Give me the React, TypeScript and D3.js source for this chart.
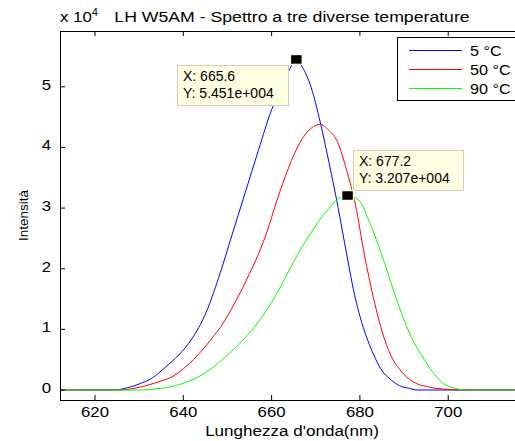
import React from 'react';
import * as d3 from 'd3';

// spettri (nm, intensità in unità di 1e4)
const blueNm = [612, 624, 627, 630, 633, 636, 639, 642, 645, 648, 651, 654, 657, 660, 662, 664, 665.6, 667, 669, 671, 673, 675, 677, 679, 681, 683, 685, 687, 689, 691, 693, 720];
const blueVal = [0, 0, 0.03, 0.1, 0.2, 0.38, 0.58, 0.85, 1.25, 1.85, 2.55, 3.25, 3.95, 4.62, 4.95, 5.28, 5.451, 5.32, 4.98, 4.42, 3.75, 3.03, 2.24, 1.5, 0.98, 0.6, 0.32, 0.17, 0.07, 0.03, 0, 0];

const redNm = [612, 626, 629, 632, 635, 637, 640, 642.3, 645, 647, 649, 651, 653, 655, 657, 659, 661, 663, 665, 667, 669, 671, 673, 675, 677, 679, 681, 683, 685, 687, 689, 691, 693, 695, 697, 700, 703, 720];
const redVal = [0, 0, 0.03, 0.08, 0.15, 0.2, 0.35, 0.5, 0.72, 0.9, 1.1, 1.35, 1.62, 1.92, 2.24, 2.62, 3.08, 3.5, 3.87, 4.15, 4.32, 4.38, 4.28, 4.08, 3.62, 3.05, 2.24, 1.54, 0.97, 0.57, 0.34, 0.19, 0.1, 0.06, 0.03, 0.01, 0, 0];

const greenNm = [612, 631, 634, 637, 640, 643, 645.3, 648, 651.3, 654, 657, 660, 662, 664, 666.4, 669, 671, 673, 675, 677.2, 679.6, 682.6, 685.6, 688.6, 691.6, 694.6, 697, 699, 701, 704, 720];
const greenVal = [0, 0, 0.02, 0.05, 0.11, 0.2, 0.3, 0.45, 0.66, 0.86, 1.12, 1.45, 1.7, 1.98, 2.3, 2.6, 2.82, 3.0, 3.15, 3.207, 3.14, 2.69, 2.09, 1.43, 0.88, 0.5, 0.25, 0.1, 0.04, 0, 0];

const seriesNames = ['5 °C', '50 °C', '90 °C'];
const seriesColors = ['#0000ff', '#ff0000', '#00ff00'];

const xTicks = [620, 640, 660, 680, 700, 720];
const xTickLabels = [620, 640, 660, 680, 700];
const yTicks = [0, 1, 2, 3, 4, 5];

// data tip
const tips = [
  { x: 665.6, y: 5.451, label: ['X: 665.6', 'Y: 5.451e+004'] },
  { x: 677.2, y: 3.207, label: ['X: 677.2', 'Y: 3.207e+004'] },
];

const font = 'Liberation Sans, Arial, sans-serif';

// testo leggermente allargato in orizzontale, come nell'immagine esportata
function Wide({ x, y, sx = 1.12, anchor = 'start', size = 15, children }: any) {
  return (
    <text transform={`translate(${x},${y}) scale(${sx},1)`} fontSize={size} textAnchor={anchor}>
      {children}
    </text>
  );
}

export default function App() {
  const width = 515;
  const height = 441;
  const left = 60;
  const top = 31;
  const bottom = 400;

  const x = d3.scaleLinear().domain([612.07, 720]).range([left, left + (720 - 612.07) * 4.415]);
  const y = d3.scaleLinear().domain([-0.165, 5.92]).range([bottom, top]);

  const line = d3
    .line<[number, number]>()
    .x(d => x(d[0]))
    .y(d => y(d[1]))
    .curve(d3.curveMonotoneX);

  const series = [
    d3.zip(blueNm, blueVal) as [number, number][],
    d3.zip(redNm, redVal) as [number, number][],
    d3.zip(greenNm, greenVal) as [number, number][],
  ];

  const tipBoxes = [
    { bx: 177, by: 65, bw: 111, bh: 40 },
    { bx: 353, by: 150, bw: 110, bh: 40 },
  ];

  return (
    <svg width={width} height={height} style={{ position: 'absolute', left: 0, top: 0, background: '#fff' }} fontFamily={font}>
      <rect width={width} height={height} fill="#fff" />
      <defs>
        <clipPath id="plot">
          <rect x={left} y={top} width={width - left} height={bottom - top} />
        </clipPath>
      </defs>

      <g clipPath="url(#plot)">
        {series.map((s, i) => (
          <path key={i} d={line(s) || ''} fill="none" stroke={seriesColors[i]} strokeWidth={1} />
        ))}
      </g>

      {/* cornice e tacche */}
      <line x1={left} x2={width} y1={top + 0.5} y2={top + 0.5} stroke="#000" />
      <line x1={left} x2={width} y1={bottom + 0.5} y2={bottom + 0.5} stroke="#000" />
      <line x1={left + 0.5} x2={left + 0.5} y1={top} y2={bottom + 1} stroke="#000" />
      {xTicks.map(t => (
        <g key={t}>
          <line x1={x(t)} x2={x(t)} y1={bottom} y2={bottom - 5} stroke="#000" />
          <line x1={x(t)} x2={x(t)} y1={top} y2={top + 5} stroke="#000" />
        </g>
      ))}
      {xTickLabels.map(t => (
        <Wide key={t} x={x(t)} y={bottom + 17} anchor="middle">{t}</Wide>
      ))}
      {yTicks.map(t => (
        <g key={t}>
          <line x1={left} x2={left + 5} y1={y(t)} y2={y(t)} stroke="#000" />
          <Wide x={left - 9} y={y(t) + 3} anchor="end">{t}</Wide>
        </g>
      ))}

      <Wide x={left} y={22}>x 10<tspan dy={-6} fontSize={10}>4</tspan></Wide>
      <Wide x={292} y={22} sx={1.14} size={15.5} anchor="middle">LH W5AM - Spettro a tre diverse temperature</Wide>
      <Wide x={292} y={436} sx={1.1} size={15.5} anchor="middle">Lunghezza d'onda(nm)</Wide>
      <text transform={`translate(27.5,${(top + bottom) / 2}) rotate(-90)`} fontSize={13.5} textAnchor="middle">Intensità</text>

      {/* legenda */}
      <rect x={397.5} y={37.5} width={140} height={63} fill="#fff" stroke="#000" />
      {seriesNames.map((n, i) => (
        <g key={n}>
          <line x1={409} x2={462} y1={50.5 + i * 19} y2={50.5 + i * 19} stroke={seriesColors[i]} />
          <Wide x={470} y={56 + i * 19} sx={1.08}>{n}</Wide>
        </g>
      ))}

      {/* data tip */}
      {tips.map((t, i) => {
        const b = tipBoxes[i];
        return (
          <g key={i}>
            <rect x={b.bx + 0.5} y={b.by + 0.5} width={b.bw} height={b.bh} fill="#ffffe1" stroke="#cfcfc0" />
            <text x={b.bx + 6} y={b.by + 16} fontSize={14}>{t.label[0]}</text>
            <text x={b.bx + 6} y={b.by + 33} fontSize={14}>{t.label[1]}</text>
            <rect x={x(t.x) - 6} y={y(t.y) - 5} width={12} height={10} fill="#000" stroke="#ffffe1" strokeWidth={1.5} />
          </g>
        );
      })}
    </svg>
  );
}
